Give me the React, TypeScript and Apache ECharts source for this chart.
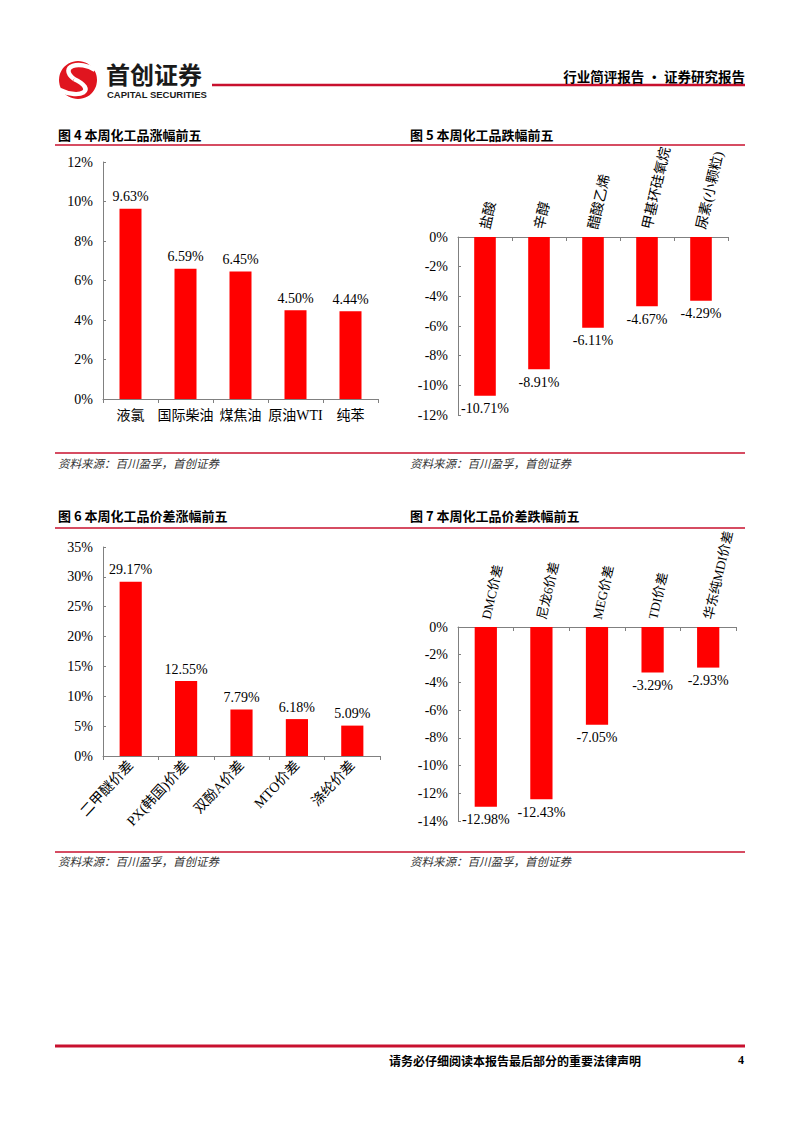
import React, { useEffect, useRef } from "react";
import * as echarts from "echarts";

const cat1 = ["液氯", "国际柴油", "煤焦油", "原油WTI", "纯苯"];
const val1 = [9.63, 6.59, 6.45, 4.5, 4.44];
const cat2 = ["盐酸", "辛醇", "醋酸乙烯", "甲基环硅氧烷", "尿素(小颗粒)"];
const val2 = [-10.71, -8.91, -6.11, -4.67, -4.29];
const cat3 = ["二甲醚价差", "PX(韩国)价差", "双酚A价差", "MTO价差", "涤纶价差"];
const val3 = [29.17, 12.55, 7.79, 6.18, 5.09];
const cat4 = ["DMC价差", "尼龙6价差", "MEG价差", "TDI价差", "华东纯MDI价差"];
const val4 = [-12.98, -12.43, -7.05, -3.29, -2.93];

const titles = ["图 4 本周化工品涨幅前五", "图 5 本周化工品跌幅前五", "图 6 本周化工品价差涨幅前五", "图 7 本周化工品价差跌幅前五"];
const sourceText = "资料来源：百川盈孚，首创证券";
const headerRight = "行业简评报告 · 证券研究报告";
const footerText = "请务必仔细阅读本报告最后部分的重要法律声明";

const SERIF = "'Liberation Serif', 'Times New Roman', 'Noto Sans CJK SC', serif";
const SANS = "'Noto Sans CJK SC', 'Noto Sans', sans-serif";
const RED = "#FF0000";
const LINE_RED = "#C8102E";
const AXIS = "#808080";

function pct(v: number) {
  return v.toFixed(2) + "%";
}

export default function App() {
  const ref = useRef<HTMLDivElement>(null);
  useEffect(() => {
    if (!ref.current) return;
    const chart = echarts.init(ref.current, null, { renderer: "svg" });

    const grids = [
      { left: 103, top: 162, width: 275, height: 237 },
      { left: 458, top: 237, width: 270, height: 178 },
      { left: 103, top: 547, width: 277, height: 209 },
      { left: 458, top: 627, width: 278, height: 194 },
    ];
    const cats = [cat1, cat2, cat3, cat4];
    const vals = [val1, val2, val3, val4];
    const ranges = [
      [0, 12, 2],
      [-12, 0, 2],
      [0, 35, 5],
      [-14, 0, 2],
    ];

    const xAxis = cats.map((c, i) => {
      const neg = i === 1 || i === 3;
      return {
        type: "category",
        gridIndex: i,
        data: c,
        position: neg ? "top" : "bottom",
        axisLine: { onZero: false, lineStyle: { color: AXIS, width: 1 } },
        axisTick: { show: true, inside: neg, length: 4, lineStyle: { color: AXIS } },
        axisLabel: {
          interval: 0,
          rotate: neg ? -77 : i === 2 ? 47 : 0,
          margin: neg ? 8 : i === 2 ? 7 : 9,
          color: "#000",
          fontSize: i === 3 ? 13 : 14,
          fontFamily: SERIF,
        },
      };
    });

    const yAxis = ranges.map((r, i) => ({
      type: "value",
      gridIndex: i,
      min: r[0],
      max: r[1],
      interval: r[2],
      splitLine: { show: false },
      axisLine: { show: true, lineStyle: { color: AXIS, width: 1 } },
      axisTick: { show: true, inside: true, length: 3, lineStyle: { color: AXIS } },
      axisLabel: {
        color: "#000",
        fontSize: 14,
        fontFamily: SERIF,
        margin: 10,
        formatter: (v: number) => v + "%",
      },
    }));

    const series = vals.map((v, i) => {
      const neg = i === 1 || i === 3;
      return {
        type: "bar",
        xAxisIndex: i,
        yAxisIndex: i,
        data: v,
        barWidth: "40%",
        itemStyle: { color: RED },
        label: {
          show: true,
          position: neg ? "bottom" : "top",
          distance: neg ? 6 : 5,
          color: "#000",
          fontSize: 14,
          fontFamily: SERIF,
          formatter: (p: any) => pct(p.value),
        },
      };
    });

    const titlePos = [
      [58, 134],
      [410, 134],
      [58, 515],
      [410, 515],
    ];
    const graphic: any[] = [];
    titlePos.forEach((p, i) => {
      graphic.push({
        type: "text",
        x: p[0],
        y: p[1],
        style: { text: titles[i], fill: "#000", fontSize: 13, fontWeight: "bold", fontFamily: SANS, textVerticalAlign: "middle" },
      });
    });
    [145, 528].forEach((y) => {
      graphic.push({ type: "line", shape: { x1: 55, y1: y, x2: 745, y2: y }, style: { stroke: LINE_RED, lineWidth: 1.5 } });
    });
    [453, 852].forEach((y) => {
      graphic.push({ type: "line", shape: { x1: 55, y1: y, x2: 745, y2: y }, style: { stroke: LINE_RED, lineWidth: 1.5 } });
    });
    [
      [58, 463],
      [410, 463],
      [58, 861],
      [410, 861],
    ].forEach((p) => {
      graphic.push({
        type: "text",
        x: p[0],
        y: p[1],
        style: { text: sourceText, fill: "#333", fontSize: 11.5, fontStyle: "italic", fontFamily: SANS, textVerticalAlign: "middle" },
      });
    });

    // header
    graphic.push({ type: "circle", shape: { cx: 78, cy: 80, r: 19 }, style: { fill: "#E0151F" } });
    graphic.push({
      type: "bezierCurve",
      shape: { x1: 95, y1: 70, cpx1: 80, cpy1: 60, cpx2: 58, cpy2: 66, x2: 74, y2: 79 },
      style: { stroke: "#fff", lineWidth: 4.5, fill: "none" },
    });
    graphic.push({
      type: "bezierCurve",
      shape: { x1: 74, y1: 79, cpx1: 98, cpy1: 90, cpx2: 80, cpy2: 100, x2: 60, y2: 90 },
      style: { stroke: "#fff", lineWidth: 4.5, fill: "none" },
    });
    graphic.push({
      type: "text",
      x: 106,
      y: 73,
      style: { text: "首创证券", fill: "#1a1a1a", fontSize: 24, fontWeight: "bold", fontFamily: SANS, textVerticalAlign: "middle" },
    });
    graphic.push({
      type: "text",
      x: 107,
      y: 94,
      style: { text: "CAPITAL SECURITIES", fill: "#1a1a1a", fontSize: 9.5, fontWeight: "bold", fontFamily: "'Liberation Sans', Arial, sans-serif", textVerticalAlign: "middle" },
    });
    graphic.push({ type: "line", shape: { x1: 212, y1: 85, x2: 745, y2: 85 }, style: { stroke: LINE_RED, lineWidth: 2.5 } });
    graphic.push({
      type: "text",
      x: 745,
      y: 76,
      style: { text: headerRight, fill: "#000", fontSize: 13.5, fontWeight: "bold", fontFamily: SANS, textAlign: "right", textVerticalAlign: "middle" },
    });

    // footer
    graphic.push({ type: "line", shape: { x1: 55, y1: 1046, x2: 745, y2: 1046 }, style: { stroke: LINE_RED, lineWidth: 3 } });
    graphic.push({
      type: "text",
      x: 515,
      y: 1060,
      style: { text: footerText, fill: "#000", fontSize: 12, fontWeight: "bold", fontFamily: SANS, textAlign: "center", textVerticalAlign: "middle" },
    });
    graphic.push({
      type: "text",
      x: 741,
      y: 1060,
      style: { text: "4", fill: "#000", fontSize: 12, fontWeight: "bold", fontFamily: SERIF, textAlign: "center", textVerticalAlign: "middle" },
    });

    chart.setOption({
      animation: false,
      backgroundColor: "#fff",
      grid: grids.map((g) => ({ ...g, containLabel: false })),
      xAxis,
      yAxis,
      series,
      graphic,
    } as any);

    return () => chart.dispose();
  }, []);

  return <div ref={ref} style={{ position: "absolute", left: 0, top: 0, width: 802, height: 1133 }} />;
}
